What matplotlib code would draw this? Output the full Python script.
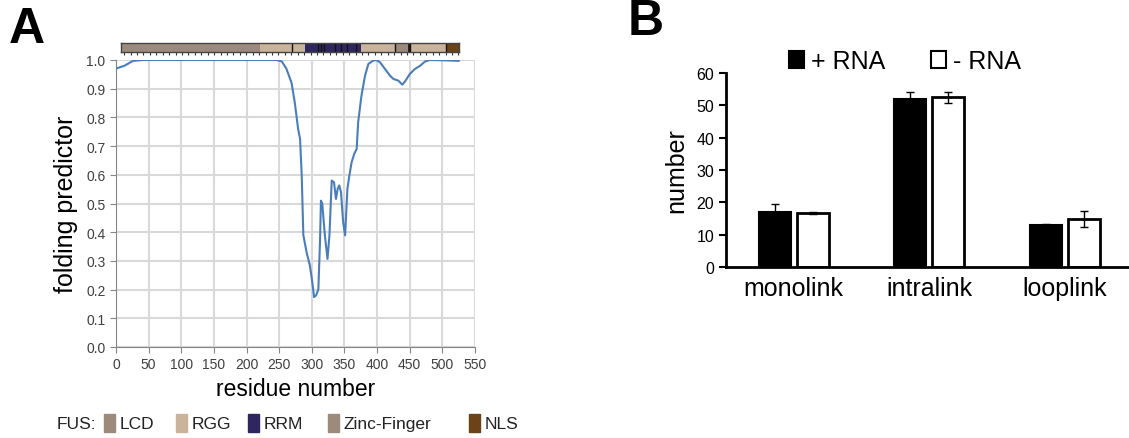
import matplotlib.pyplot as plt
import numpy as np
from matplotlib.patches import Patch

plt.rcParams["font.family"] = ["Liberation Sans", "DejaVu Sans"]

# panel A: folding predictor along FUS
residue = [1, 13, 26, 42, 100, 200, 246, 254, 261, 269, 274, 279, 282, 284.5, 287, 292, 297,
           300, 303.5, 306.5, 310, 312.5, 314, 316, 320, 324, 327, 330.5, 334, 337, 339.6,
           342, 344.7, 348, 351, 354.5, 357.5, 361, 365, 368.7, 371, 376, 381.5, 386.6, 394,
           399, 404.5, 412, 420, 425, 432.6, 438.7, 443, 450, 458, 466, 473.5, 481, 501, 525]
folding = [0.971, 0.98, 0.997, 1.0, 1.0, 1.0, 1.0, 0.995, 0.97, 0.92, 0.85, 0.76, 0.725, 0.60,
           0.39, 0.33, 0.284, 0.238, 0.174, 0.18, 0.20, 0.365, 0.51, 0.50, 0.389, 0.307, 0.389,
           0.58, 0.574, 0.516, 0.551, 0.563, 0.54, 0.435, 0.389, 0.551, 0.597, 0.644, 0.673,
           0.69, 0.783, 0.875, 0.945, 0.986, 0.998, 1.0, 0.992, 0.969, 0.945, 0.934, 0.928,
           0.914, 0.926, 0.951, 0.969, 0.98, 0.995, 1.0, 0.999, 0.997]

# domain map (start, end, colour)
domain_colors = {"LCD": "#9c8b7c", "RGG": "#c9b39a", "RRM": "#2f2660",
                 "Zinc-Finger": "#9c8b7c", "NLS": "#6b4317"}
domains = [(0, 216, "LCD"), (216, 287, "RGG"), (287, 373, "RRM"), (373, 428, "RGG"),
           (428, 446, "Zinc-Finger"), (452, 507, "RGG"), (507, 526, "NLS")]
dividers = [266, 307, 311, 316, 333, 343, 351, 366, 426, 449, 505]

# panel B: crosslink counts
categories = ["monolink", "intralink", "looplink"]
plus_rna = [17.2, 51.9, 13.1]
plus_err = [2.3, 2.1, 0.3]
minus_rna = [16.8, 52.4, 14.9]
minus_err = [0.4, 1.8, 2.5]

W, H = 1129, 439
fig = plt.figure(figsize=(W / 100, H / 100), dpi=100)


def px_axes(x0, y0, x1, y1):
    # axes from pixel box (top-left origin)
    return fig.add_axes([x0 / W, 1 - y1 / H, (x1 - x0) / W, (y1 - y0) / H])


# ---- panel A ----
ax = px_axes(116, 61, 475, 348)
ax.plot(residue, folding, color="#4a7ebb", lw=1.5, zorder=3)
ax.set_xlim(0, 550)
ax.set_ylim(0, 1.0)
ax.set_xticks(np.arange(0, 551, 50))
ax.set_yticks(np.arange(0, 1.01, 0.1))
ax.set_yticklabels([f"{v:.1f}" for v in np.arange(0, 1.01, 0.1)])
ax.grid(True, color="#d9d9d9", lw=1.5)
ax.set_axisbelow(True)
for s in ["top", "right"]:
    ax.spines[s].set_visible(False)
for s in ["left", "bottom"]:
    ax.spines[s].set_color("#868686")
ax.tick_params(colors="#868686", labelcolor="#404040", labelsize=10, length=4, direction="out")
ax.set_ylabel("folding predictor", fontsize=18, labelpad=6)
ax.set_xlabel("residue number", fontsize=16.5, labelpad=4)

# domain strip
ax_d = px_axes(121, 44, 459, 53)
for start, end, name in domains:
    ax_d.axvspan(start, end, color=domain_colors[name], lw=0)
ax_d.axvspan(446, 452, color="#222222", lw=0)
for d in dividers:
    ax_d.axvline(d, color="#111111", lw=1)
ax_d.set_xlim(0, 526)
ax_d.set_ylim(0, 1)
ax_d.set_xticks(np.arange(5, 526, 10))
ax_d.set_yticks([])
ax_d.tick_params(axis="x", length=2, labelbottom=False, color="#333333", width=0.8)
for s in ax_d.spines.values():
    s.set_color("#444444")
    s.set_linewidth(1)

# domain legend
fig.text(57 / W, 1 - 425 / H, "FUS:", fontsize=12.5, va="center", color="#222222")
legend_items = [("LCD", 104), ("RGG", 176), ("RRM", 248), ("Zinc-Finger", 328), ("NLS", 469)]
for name, x in legend_items:
    fig.patches.append(plt.Rectangle((x / W, 1 - 433 / H), 11 / W, 18 / H,
                                     transform=fig.transFigure, color=domain_colors[name]))
    fig.text((x + 16) / W, 1 - 425 / H, name, fontsize=12.5, va="center", color="#222222")

fig.text(9 / W, 1 - 30 / H, "A", fontsize=36, fontweight="bold", va="center")
fig.text(628 / W, 1 - 22 / H, "B", fontsize=36, fontweight="bold", va="center")

# ---- panel B ----
bx = px_axes(726, 73.7, 1129, 268.3)
x = np.arange(len(categories))
bw, off = 0.236, 0.14
bx.bar(x - off, plus_rna, bw, color="black", edgecolor="black", lw=1.5, label="+ RNA",
       yerr=plus_err, capsize=3, error_kw=dict(lw=1, capthick=1, ecolor="black"))
bx.bar(x + off, minus_rna, bw, color="white", edgecolor="black", lw=2, label="- RNA",
       yerr=minus_err, capsize=3, error_kw=dict(lw=1, capthick=1, ecolor="black"))
bx.set_xlim(-0.5, 2.475)
bx.set_ylim(0, 60)
bx.set_yticks(np.arange(0, 61, 10))
bx.set_xticks(x)
bx.set_xticklabels(categories, fontsize=18)
bx.tick_params(axis="x", length=0, pad=6)
bx.tick_params(axis="y", labelsize=11.5, length=5, width=1.5, direction="out")
for s in ["top", "right"]:
    bx.spines[s].set_visible(False)
for s in ["left", "bottom"]:
    bx.spines[s].set_linewidth(2)
bx.set_ylabel("number", fontsize=18, labelpad=6)
handles = [Patch(facecolor="black", edgecolor="black", lw=1.5, label="+ RNA"),
           Patch(facecolor="white", edgecolor="black", lw=1.5, label="- RNA")]
fig.legend(handles=handles, loc="center", bbox_to_anchor=(905 / W, 1 - 62 / H), ncol=2,
           frameon=False, fontsize=18, handlelength=0.6, handleheight=0.7,
           handletextpad=0.3, columnspacing=1.8)

fig.savefig("out.png", dpi=100)
